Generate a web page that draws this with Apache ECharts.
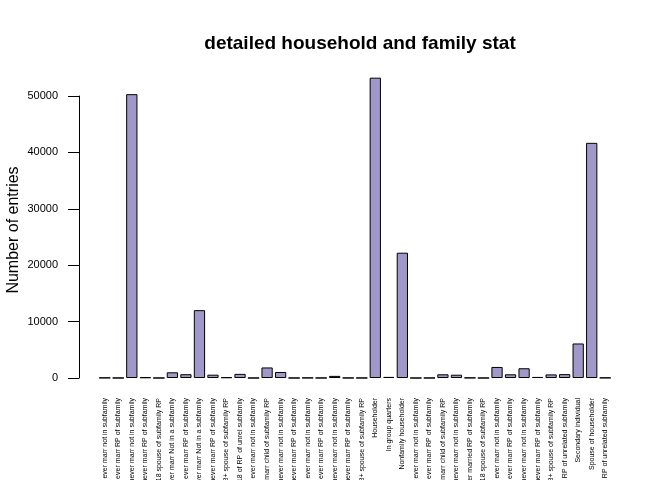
<!DOCTYPE html>
<html>
<head>
<meta charset="utf-8">
<script src="https://cdn.jsdelivr.net/npm/echarts@6/dist/echarts.min.js"></script>
<style>
  html, body { margin: 0; padding: 0; background: #fff; }
  #chart { width: 672px; height: 480px; }
</style>
</head>
<body>
<div id="chart"></div>
<script>
// categories in the order R sorted them
const categories = [
  'Child <18 ever marr not in subfamily',
  'Child <18 ever marr RP of subfamily',
  'Child <18 never marr not in subfamily',
  'Child <18 never marr RP of subfamily',
  'Child <18 spouse of subfamily RP',
  'Child 18+ ever marr Not in a subfamily',
  'Child 18+ ever marr RP of subfamily',
  'Child 18+ never marr Not in a subfamily',
  'Child 18+ never marr RP of subfamily',
  'Child 18+ spouse of subfamily RP',
  'Child under 18 of RP of unrel subfamily',
  'Grandchild <18 ever marr not in subfamily',
  'Grandchild <18 never marr child of subfamily RP',
  'Grandchild <18 never marr not in subfamily',
  'Grandchild <18 never marr RP of subfamily',
  'Grandchild 18+ ever marr not in subfamily',
  'Grandchild 18+ ever marr RP of subfamily',
  'Grandchild 18+ never marr not in subfamily',
  'Grandchild 18+ never marr RP of subfamily',
  'Grandchild 18+ spouse of subfamily RP',
  'Householder',
  'In group quarters',
  'Nonfamily householder',
  'Other Rel <18 ever marr not in subfamily',
  'Other Rel <18 ever marr RP of subfamily',
  'Other Rel <18 never marr child of subfamily RP',
  'Other Rel <18 never marr not in subfamily',
  'Other Rel <18 never married RP of subfamily',
  'Other Rel <18 spouse of subfamily RP',
  'Other Rel 18+ ever marr not in subfamily',
  'Other Rel 18+ ever marr RP of subfamily',
  'Other Rel 18+ never marr not in subfamily',
  'Other Rel 18+ never marr RP of subfamily',
  'Other Rel 18+ spouse of subfamily RP',
  'RP of unrelated subfamily',
  'Secondary individual',
  'Spouse of householder',
  'Spouse of RP of unrelated subfamily'
];

const counts = [
  48, 9, 50326, 117, 3, 1013, 671, 12030, 589, 126,
  732, 2, 1868, 1066, 2, 34, 9, 375, 21, 10,
  53248, 196, 22213, 3, 9, 656, 584, 42, 3, 1956,
  656, 1728, 190, 638, 685, 6122, 41695, 52
];

const yTicks = [0, 10000, 20000, 30000, 40000, 50000];

const font = '"Liberation Sans", Arial, Helvetica, sans-serif';

const chart = echarts.init(document.getElementById('chart'), null, { renderer: 'canvas' });

chart.setOption({
  animation: false,
  backgroundColor: '#fff',
  textStyle: { fontFamily: font },
  title: {
    text: 'detailed household and family stat',
    left: 355,
    top: 29,
    textAlign: 'center',
    textStyle: { fontFamily: font, fontSize: 19, fontWeight: 'bold', color: '#000' }
  },
  grid: {
    left: 98, right: 60, top: 96, bottom: 102,
    containLabel: false,
    outerBoundsMode: 'none'
  },
  xAxis: {
    type: 'category',
    data: categories,
    axisLine: { show: false },
    axisTick: { show: false },
    axisLabel: {
      interval: 0,
      rotate: 90,
      margin: 20,
      fontSize: 7,
      color: '#000',
      fontFamily: font,
      hideOverlap: false
    }
  },
  yAxis: {
    type: 'value',
    min: yTicks[0],
    max: yTicks[yTicks.length - 1],
    interval: 10000,
    offset: 19,
    name: 'Number of entries',
    nameLocation: 'middle',
    nameGap: 57,
    nameMoveOverlap: false,
    nameTextStyle: { fontSize: 16, color: '#000', fontFamily: font, padding: [0, 0, 0, 14] },
    axisLine: { show: true, lineStyle: { color: '#000', width: 1 } },
    axisTick: { show: true, length: 11, lineStyle: { color: '#000', width: 1 } },
    axisLabel: {
      fontSize: 11, margin: 21, color: '#000', fontFamily: font,
      formatter: v => String(v)
    },
    splitLine: { show: false }
  },
  series: [{
    type: 'bar',
    data: counts,
    clip: false,
    barCategoryGap: '16.7%',
    itemStyle: { color: '#A098C8', borderColor: '#000', borderWidth: 1 }
  }]
});
</script>
</body>
</html>
